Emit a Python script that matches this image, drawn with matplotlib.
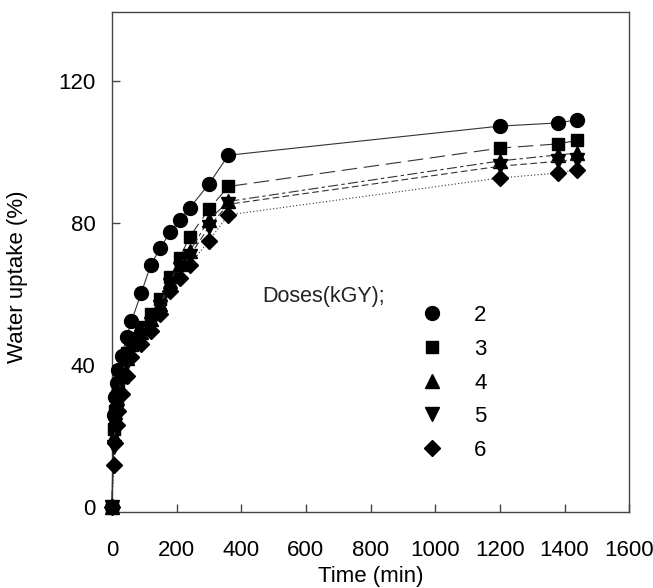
import matplotlib
matplotlib.use("Agg")
import matplotlib.pyplot as plt

plt.rcParams['font.family'] = ['Liberation Sans', 'DejaVu Sans']

# Sampling times (min)
time_min = [0, 5, 10, 15, 20, 30, 45, 60, 90, 120, 150, 180, 210, 240, 300, 360, 1200, 1380, 1440]

# Water uptake (%) for each irradiation dose
uptake_2 = [0, 26, 31, 35, 38.5, 42.5, 48, 52.3, 60.2, 68.2, 73.1, 77.4, 80.9, 84.2, 91, 99.1, 107.3, 108.2, 109.1]
uptake_3 = [0, 22, 27, 31, 34.5, 38.5, 43.5, 47.5, 50.8, 54.5, 58.5, 64.7, 70.3, 76.1, 83.9, 90.3, 101.1, 102.3, 103.3]
uptake_4 = [0, 20, 25, 29, 32.5, 37, 42, 46, 49.4, 53.1, 57.3, 63.8, 68.6, 72, 80.9, 86.1, 97.5, 99.2, 99.7]
uptake_5 = [0, 17, 23, 27, 31, 35.5, 40.5, 44.6, 48, 51.7, 56.5, 62.7, 67.2, 70.6, 79, 85.3, 96, 97.4, 97.8]
uptake_6 = [0, 12, 18, 23, 27, 32, 37, 42.4, 46, 49.7, 54.5, 61, 64.4, 68.2, 75, 82.3, 92.7, 94.1, 95]

dose_labels = ['2', '3', '4', '5', '6']
x_ticks = [0, 200, 400, 600, 800, 1000, 1200, 1400, 1600]
y_ticks = [0, 40, 80, 120]

series = [uptake_2, uptake_3, uptake_4, uptake_5, uptake_6]
markers = ['o', 's', '^', 'v', 'D']
msizes = [10, 9, 9.5, 9.5, 8]
linestyles = ['-', (0, (14, 6)), (0, (9, 3, 3, 3)), (0, (6, 3)), (0, (1, 2))]

fig = plt.figure(figsize=(6.53, 5.88), dpi=100)
ax = fig.add_axes([0.1715, 0.129, 0.792, 0.851])

handles = []
for y, m, ms, ls in zip(series, markers, msizes, linestyles):
    ln, = ax.plot(time_min, y, color='#333333', linewidth=0.8, linestyle=ls,
                  marker=m, markersize=ms, markerfacecolor='black',
                  markeredgecolor='black', clip_on=False, zorder=3)
    handles.append(ln)

ax.set_xlim(0, 1600)
ax.set_ylim(-1.4, 139.5)
ax.set_xticks(x_ticks)
ax.set_yticks(y_ticks)
ax.tick_params(direction='in', length=6, width=1, color='#444444',
               labelsize=16, top=False, right=False)
ax.tick_params(axis='x', pad=20)
ax.tick_params(axis='y', pad=12)
for sp in ax.spines.values():
    sp.set_color('#444444')
    sp.set_linewidth(1)

ax.set_xlabel('Time (min)', fontsize=16, labelpad=4)
ax.set_ylabel('Water uptake (%)', fontsize=16)
ax.yaxis.set_label_coords(-0.163, 0.47)

ax.text(0.29, 0.43, 'Doses(kGY);', transform=ax.transAxes,
        ha='left', va='center', fontsize=15.5, color='#222222')

leg = ax.legend(handles, dose_labels, loc='upper left',
                bbox_to_anchor=(0.6616, 0.481), bbox_transform=fig.transFigure,
                frameon=False, handlelength=0, handletextpad=1.9,
                labelspacing=0.57, borderpad=0, borderaxespad=0,
                fontsize=16, numpoints=1)

fig.savefig('out.png', dpi=100)
